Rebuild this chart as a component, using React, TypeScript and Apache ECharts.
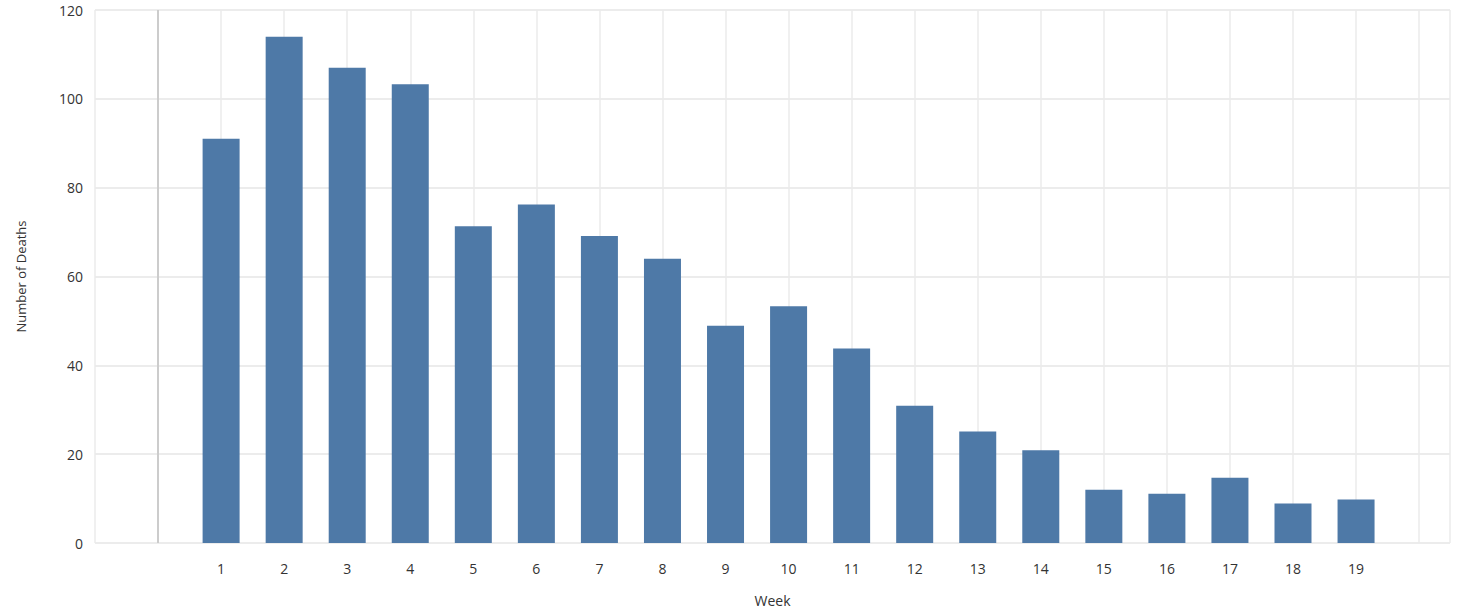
import { useEffect, useRef } from "react";
import * as echarts from "echarts";

const weeks = [1, 2, 3, 4, 5, 6, 7, 8, 9, 10, 11, 12, 13, 14, 15, 16, 17, 18, 19];
const deaths = [91, 114, 107, 103.3, 71.3, 76.2, 69.1, 64, 48.9, 53.3, 43.8, 30.9, 25.1, 20.9, 12, 11.1, 14.7, 8.9, 9.8];

function App() {
  const chartRef = useRef(null);

  useEffect(() => {
    document.body.style.margin = "0";
    const chart = echarts.init(chartRef.current, null, { renderer: "svg" });
    const font = "'Open Sans', 'DejaVu Sans', sans-serif";
    chart.setOption({
      animation: false,
      textStyle: { fontFamily: font },
      grid: { left: 95, right: 20, top: 10, bottom: 67 },
      xAxis: {
        type: "value",
        min: -1,
        max: 20.49,
        interval: 1,
        name: "Week",
        nameLocation: "middle",
        nameGap: 50,
        nameTextStyle: { color: "#333", fontSize: 14 },
        axisLine: { show: false },
        axisTick: { show: false },
        axisLabel: {
          color: "#333",
          fontSize: 14,
          margin: 18,
          showMaxLabel: false,
          formatter: (v: number) => (v >= 1 && v <= 19 ? String(v) : ""),
        },
        splitLine: { show: true, lineStyle: { color: "#ebebeb", width: 1.5 } },
      },
      yAxis: {
        type: "value",
        min: 0,
        max: 120,
        interval: 20,
        name: "Number of Deaths",
        nameLocation: "middle",
        nameGap: 68,
        nameTextStyle: { color: "#333", fontSize: 13 },
        axisLine: { show: false },
        axisTick: { show: false },
        axisLabel: { color: "#333", fontSize: 14, margin: 12 },
        splitLine: { show: true, lineStyle: { color: "#e6e6e6", width: 1.5 } },
      },
      series: [
        {
          type: "bar",
          data: weeks.map((w, i) => [w, deaths[i]]),
          barWidth: 37,
          itemStyle: { color: "#4e79a7" },
          markLine: {
            symbol: "none",
            silent: true,
            label: { show: false },
            lineStyle: { color: "#cccccc", type: "solid", width: 2 },
            data: [{ xAxis: 0 }],
          },
        },
      ],
    });
    return () => chart.dispose();
  }, []);

  return <div ref={chartRef} style={{ width: "1470px", height: "612px" }}></div>;
}

export default App;
